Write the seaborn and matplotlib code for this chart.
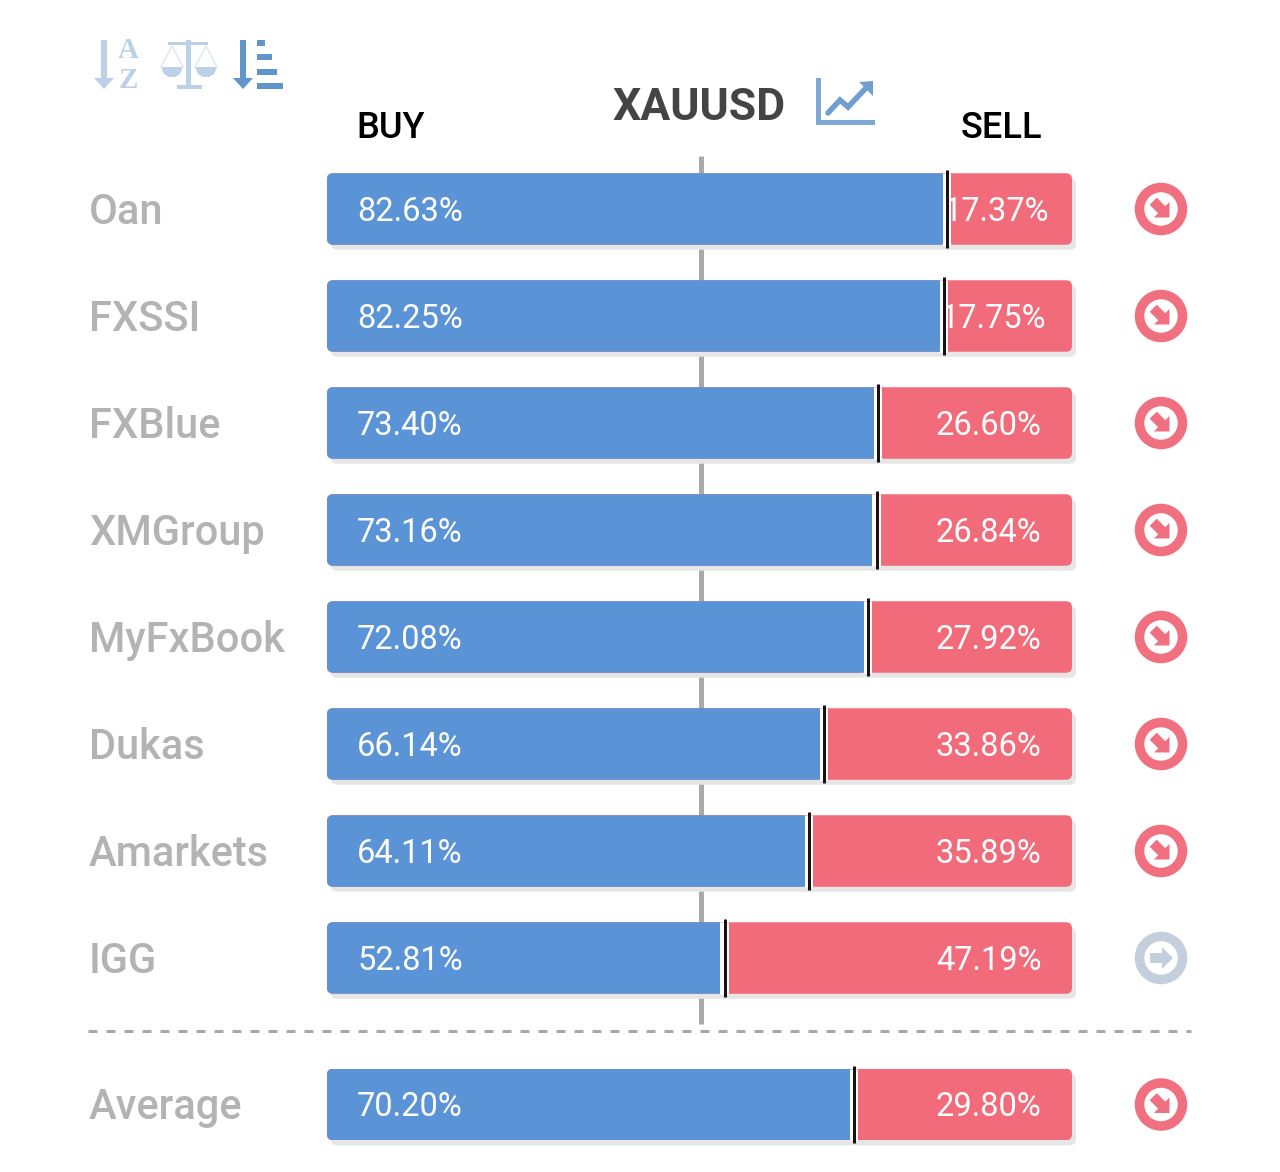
import numpy as np
import pandas as pd
import matplotlib
matplotlib.use('Agg')
import matplotlib.pyplot as plt
import seaborn as sns
from matplotlib.patches import Circle, FancyBboxPatch, Polygon, Rectangle
from matplotlib.transforms import IdentityTransform, ScaledTranslation

brokers = ['Oan', 'FXSSI', 'FXBlue', 'XMGroup', 'MyFxBook', 'Dukas', 'Amarkets', 'IGG']
buy = [82.63, 82.25, 73.40, 73.16, 72.08, 66.14, 64.11, 52.81]
sell = [17.37, 17.75, 26.60, 26.84, 27.92, 33.86, 35.89, 47.19]
trend = ['down', 'down', 'down', 'down', 'down', 'down', 'down', 'flat']

avg_name = ['Average']
avg_buy = [70.20]
avg_sell = [29.80]
avg_trend = ['down']

BLUE = '#5b94d6'
RED = '#f26b7a'
GREY_TXT = '#b3b3b3'
W, H = 1280, 1172
DPI = 100
ROW = 107
PX = 72 / DPI  # points per pixel

sns.set_theme(style='white')
plt.rcParams['font.family'] = ['Roboto', 'DejaVu Sans']

fig = plt.figure(figsize=(W / DPI, H / DPI), dpi=DPI)

# pixel canvas for everything that is not a bar
bg = fig.add_axes([0, 0, 1, 1], zorder=0)
bg.set_xlim(0, W)
bg.set_ylim(H, 0)
bg.axis('off')


def bar_axes(top, nrows):
    ax = fig.add_axes([327 / W, 1 - (top + nrows * ROW) / H, 745 / W, nrows * ROW / H], zorder=1)
    ax.patch.set_alpha(0)
    return ax


def rounded(bb, r=6, **kws):
    return FancyBboxPatch((bb.x0 + r, bb.y0 + r), bb.width - 2 * r, bb.height - 2 * r,
                          boxstyle=f'round,pad={r}', transform=IdentityTransform(), **kws)


def trend_icon(cx, cy, kind):
    col = '#f0707f' if kind == 'down' else '#c3cfdd'
    bg.add_patch(Circle((cx, cy), 21.5, fc='white', ec=col, lw=9.5 * PX))
    ang = np.deg2rad(45 if kind == 'down' else 0)
    pts = np.array([[-11, -5], [1, -5], [1, -11], [12, 0], [1, 11], [1, 5], [-11, 5]], dtype=float)
    rot = np.array([[np.cos(ang), -np.sin(ang)], [np.sin(ang), np.cos(ang)]])
    bg.add_patch(Polygon(pts @ rot.T + [cx, cy], fc=col, ec='none'))


def draw_rows(ax, names, buys, sells, trends, nudges):
    df = pd.DataFrame({'broker': names, 'buy': buys, 'sell': sells})
    df['total'] = df['buy'] + df['sell']

    sns.barplot(data=df, y='broker', x='total', color=RED, saturation=1, width=71.5 / ROW,
                errorbar=None, ax=ax, zorder=2, linewidth=0)
    n_track = len(ax.patches)
    sns.barplot(data=df, y='broker', x='buy', color=BLUE, saturation=1, width=71.5 / ROW,
                errorbar=None, ax=ax, zorder=4, linewidth=0)
    ax.set_xlim(0, 100)
    ax.set_ylim(len(df) - 0.5, -0.5)
    ax.set(xlabel='', ylabel='', xticks=[], yticks=[])
    sns.despine(ax=ax, left=True, bottom=True)

    # round the outer ends of each row, the split itself stays square
    patches = list(ax.patches)
    for i in range(n_track):
        bb = patches[i].get_window_extent()
        patches[i].set_clip_path(rounded(bb))
        patches[n_track + i].set_clip_path(rounded(bb))
        shadow = rounded(bb, fc='#e6e6e6', ec='none')
        shadow.set_transform(ScaledTranslation(4 / DPI, -5 / DPI, fig.dpi_scale_trans))
        bg.add_patch(shadow)

    # marker at the split, sits a little to the right of the blue end
    gap = ax.transData + ScaledTranslation(3.5 / DPI, 0, fig.dpi_scale_trans)
    tick = ax.transData + ScaledTranslation(4.5 / DPI, 0, fig.dpi_scale_trans)
    ax.vlines(df['buy'], df.index - 0.333, df.index + 0.333, color='white', lw=9 * PX, transform=gap, zorder=3.5)
    ax.vlines(df['buy'], df.index - 0.36, df.index + 0.36, color='#1c1014', lw=3 * PX, transform=tick, zorder=6)

    for i, row in df.iterrows():
        ax.annotate(row['broker'], xy=(0, i), xytext=(-238 * PX, 1 * PX), textcoords='offset points',
                    color=GREY_TXT, fontsize=30, fontweight='medium', va='center_baseline', ha='left')
        ax.annotate(f"{row['buy']:.2f}%", xy=(0, i), xytext=(30 * PX, 0.5 * PX), textcoords='offset points',
                    color='white', fontsize=23.5, va='center_baseline', ha='left', zorder=7)
        ax.annotate(f"{row['sell']:.2f}%", xy=(100, i), xytext=((nudges[i] - 30.5) * PX, 0.5 * PX), textcoords='offset points',
                    color='white', fontsize=23.5, va='center_baseline', ha='right', zorder=3)
        _, yy = ax.transData.transform((100, i))
        trend_icon(1161, H - yy, trends[i])


# centre line and separator go behind the bars
bg.plot([701, 701], [156, 1024], color='#a9a9a9', lw=5 * PX, solid_capstyle='butt', zorder=1)
bg.plot([88, 1191], [1031, 1031], color='#a8a8a8', lw=3 * PX, dashes=(3, 3), zorder=1)

ax_main = bar_axes(155.5, len(brokers))
draw_rows(ax_main, brokers, buy, sell, trend, [7, 4, 0, 0, 0, 0, 0, 0])
ax_avg = bar_axes(1051, 1)
draw_rows(ax_avg, avg_name, avg_buy, avg_sell, avg_trend, [0])

# headers
bg.text(356, 124.5, 'BUY', color='black', fontsize=26, fontweight='medium', va='center_baseline')
bg.text(960.5, 124.5, 'SELL', color='black', fontsize=26, fontweight='medium', va='center_baseline')
bg.text(612.5, 104, 'XAUUSD', color='#444444', fontsize=32, fontweight='bold', va='center_baseline')

# chart icon next to the symbol
ICON = '#7fa9d4'
bg.add_patch(Rectangle((816, 78), 5, 47, fc=ICON, ec='none'))
bg.add_patch(Rectangle((816, 120), 59, 5, fc=ICON, ec='none'))
bg.plot([828, 840, 848, 866], [113, 100, 107, 88], color='#6f9fd0', lw=5.5 * PX, solid_joinstyle='miter')
bg.add_patch(Polygon([[859, 82], [873, 81], [873, 96]], fc='#6f9fd0', ec='none'))

# sort buttons, first two faded
FADED = '#bcd1e7'
DARK = '#5f95cb'


def down_arrow(x, col):
    bg.add_patch(Rectangle((x - 3, 40), 6, 40, fc=col, ec='none'))
    bg.add_patch(Polygon([[x - 10, 78], [x + 10, 78], [x, 89]], fc=col, ec='none'))


down_arrow(104, FADED)
bg.text(128, 50, 'A', color=FADED, fontsize=21, family='Liberation Serif', fontweight='bold', ha='center', va='center')
bg.text(128, 81, 'Z', color=FADED, fontsize=21, family='Liberation Serif', fontweight='bold', ha='center', va='center')

bg.add_patch(Rectangle((185.5, 40), 5, 47, fc=FADED, ec='none'))
bg.add_patch(Rectangle((168, 42), 40, 3, fc=FADED, ec='none'))
bg.add_patch(Rectangle((177, 85), 25, 4, fc=FADED, ec='none'))
for c in (172, 206):
    bg.plot([c - 11, c, c + 11], [67, 46, 67], color='#dfe8f2', lw=1.5 * PX)
    bg.add_patch(Polygon([[c - 11, 67], [c + 11, 67], [c + 8, 74], [c + 3, 77], [c - 3, 77], [c - 8, 74]],
                         fc=FADED, ec='none'))

down_arrow(243, DARK)
for y, w in zip((43, 57, 72, 86), (8, 15, 20, 26)):
    bg.add_patch(Rectangle((257, y - 3), w, 6, fc=DARK, ec='none'))

fig.savefig('out.png', dpi=DPI)
